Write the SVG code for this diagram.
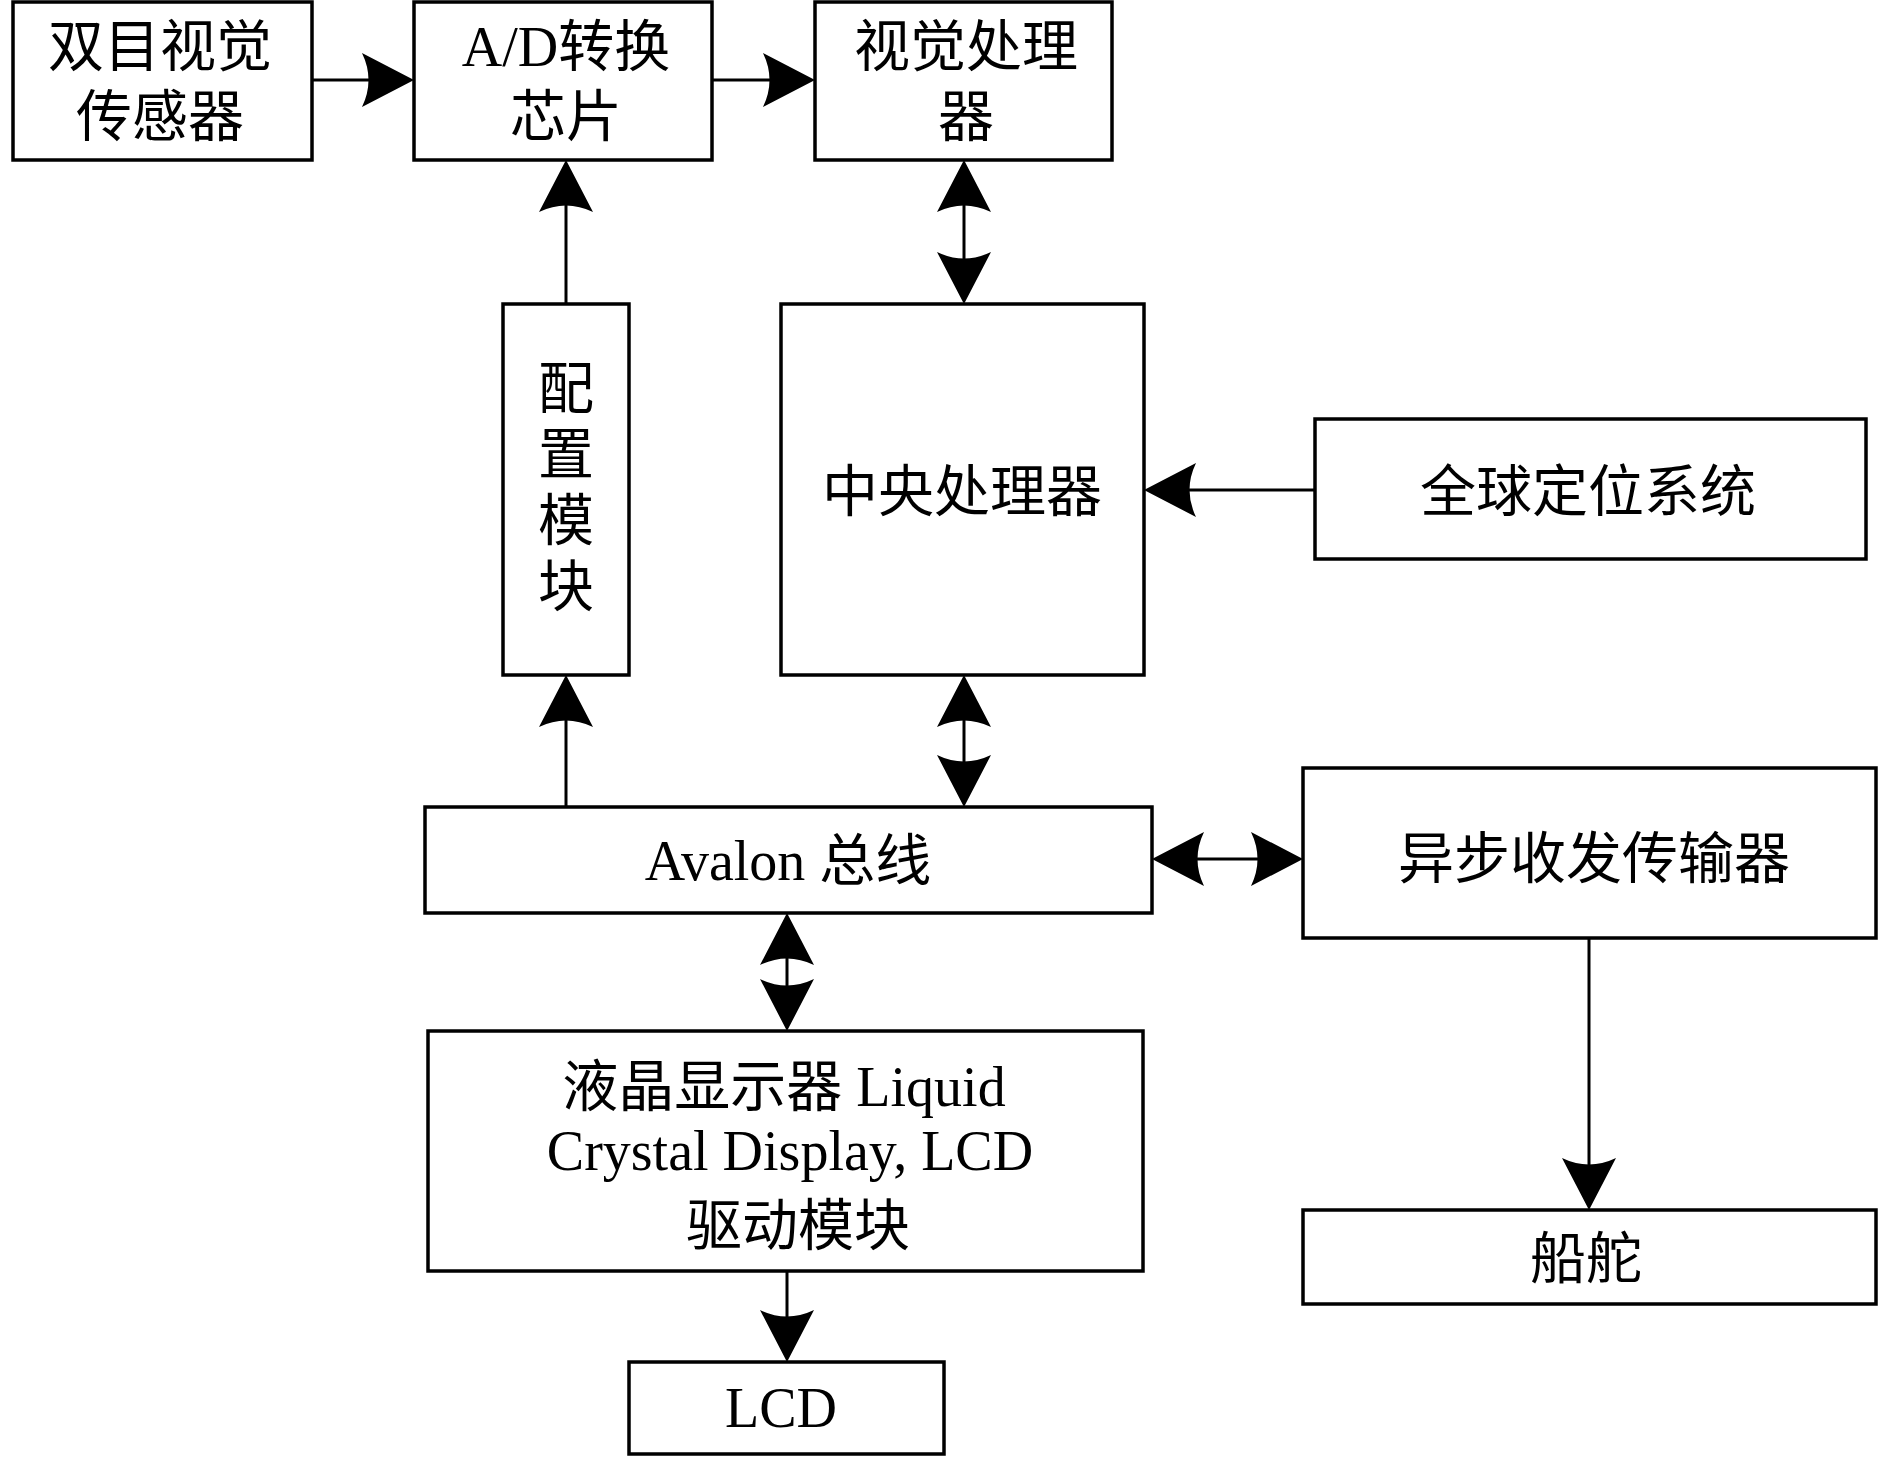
<svg xmlns="http://www.w3.org/2000/svg" width="1890" height="1457" viewBox="0 0 1890 1457">
<style>
.box{fill:#fff;stroke:#000;stroke-width:3.5}
.t{font-family:"Liberation Serif","Noto Sans CJK SC",serif;font-size:56px;fill:#000;text-anchor:middle}
.c{fill:none;stroke:#000;stroke-width:3}
</style>
<defs>
<marker id="ah" viewBox="0 0 52 54" refX="42" refY="27" markerWidth="52" markerHeight="54" markerUnits="userSpaceOnUse" orient="auto-start-reverse">
<path d="M0,0 L52,27 L0,54 Q13,27 0,0 Z" fill="#000"/>
</marker>
</defs>
<rect width="1890" height="1457" fill="#fff"/>
<g id="connectors">
<path class="c" d="M312,80 H404" marker-end="url(#ah)"/>
<path class="c" d="M712,80 H805" marker-end="url(#ah)"/>
<path class="c" d="M566,304 V170" marker-end="url(#ah)"/>
<path class="c" d="M964,170 V294" marker-start="url(#ah)" marker-end="url(#ah)"/>
<path class="c" d="M1315,490 H1154" marker-end="url(#ah)"/>
<path class="c" d="M566,807 V685" marker-end="url(#ah)"/>
<path class="c" d="M964,685 V797" marker-start="url(#ah)" marker-end="url(#ah)"/>
<path class="c" d="M1162,859 H1293" marker-start="url(#ah)" marker-end="url(#ah)"/>
<path class="c" d="M787,923 V1021" marker-start="url(#ah)" marker-end="url(#ah)"/>
<path class="c" d="M787,1271 V1352" marker-end="url(#ah)"/>
<path class="c" d="M1589,938 V1200" marker-end="url(#ah)"/>
</g>
<g id="sensor">
<rect class="box" x="13" y="2" width="299" height="158"/>
<text class="t" x="160" y="66">双目视觉</text>
<text class="t" x="160" y="136">传感器</text>
</g>
<g id="adc">
<rect class="box" x="414" y="2" width="298" height="158"/>
<text class="t" x="566" y="66">A/D转换</text>
<text class="t" x="566" y="136">芯片</text>
</g>
<g id="vproc">
<rect class="box" x="815" y="2" width="297" height="158"/>
<text class="t" x="966" y="66">视觉处理</text>
<text class="t" x="966" y="136">器</text>
</g>
<g id="config">
<rect class="box" x="503" y="304" width="126" height="371"/>
<text class="t" x="566" y="408">配</text>
<text class="t" x="566" y="474">置</text>
<text class="t" x="566" y="540">模</text>
<text class="t" x="566" y="606">块</text>
</g>
<g id="cpu">
<rect class="box" x="781" y="304" width="363" height="371"/>
<text class="t" x="962" y="511">中央处理器</text>
</g>
<g id="gps">
<rect class="box" x="1315" y="419" width="551" height="140"/>
<text class="t" x="1588" y="511">全球定位系统</text>
</g>
<g id="avalon">
<rect class="box" x="425" y="807" width="727" height="106"/>
<text class="t" x="788" y="880">Avalon 总线</text>
</g>
<g id="uart">
<rect class="box" x="1303" y="768" width="573" height="170"/>
<text class="t" x="1594" y="878">异步收发传输器</text>
</g>
<g id="lcddrv">
<rect class="box" x="428" y="1031" width="715" height="240"/>
<text class="t" x="784" y="1106">液晶显示器 Liquid</text>
<text class="t" x="790" y="1170">Crystal Display, LCD</text>
<text class="t" x="798" y="1245">驱动模块</text>
</g>
<g id="lcd">
<rect class="box" x="629" y="1362" width="315" height="92"/>
<text class="t" x="781" y="1427">LCD</text>
</g>
<g id="rudder">
<rect class="box" x="1303" y="1210" width="573" height="94"/>
<text class="t" x="1586" y="1278">船舵</text>
</g>
</svg>
